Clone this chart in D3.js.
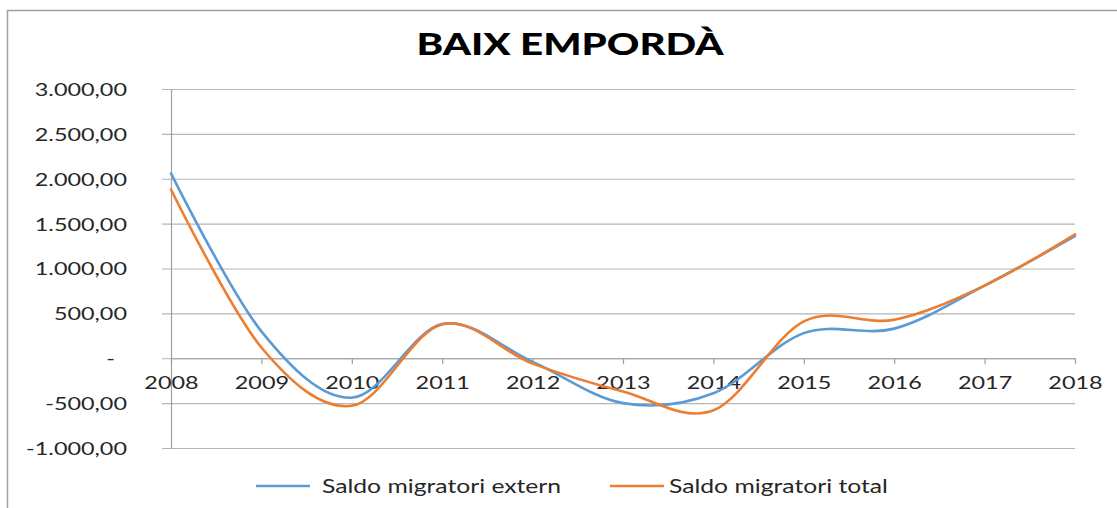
<!DOCTYPE html>
<html>
<head>
<meta charset="utf-8">
<script src="https://cdnjs.cloudflare.com/ajax/libs/d3/7.8.5/d3.min.js"></script>
<style>
  body { margin: 0; background: #fff; }
  text { font-family: Lato, "Open Sans", sans-serif; fill: #262626; }
</style>
</head>
<body>
<svg id="chart" width="1117" height="508"></svg>
<script>
// data
var years = ["2008","2009","2010","2011","2012","2013","2014","2015","2016","2017","2018"];
var saldoExtern = [2060, 300, -440, 380, -40, -500, -390, 280, 330, 810, 1360];
var saldoTotal  = [1880, 120, -530, 380, -60, -370, -580, 410, 430, 810, 1380];
var yTicks = [-1000, -500, 0, 500, 1000, 1500, 2000, 2500, 3000];
var seriesNames = ["Saldo migratori extern", "Saldo migratori total"];
var seriesColors = ["#5b9bd5", "#ed7d31"];

// the source picture is stretched sideways, so text gets a horizontal scale
var stretch = 1.3;

var svg = d3.select("#chart");
svg.append("rect").attr("width", 1117).attr("height", 508).attr("fill", "#fff");

// outer chart border (right and bottom fall outside the picture)
svg.append("path")
  .attr("d", "M7.5,508V10.5H1117")
  .attr("fill", "none")
  .attr("stroke", "#a0a0a0")
  .attr("stroke-width", 1.5);

var left = 171, right = 1075;
var x = d3.scalePoint().domain(years).range([left, right]);
var y = d3.scaleLinear().domain([-1000, 3000]).range([448, 89]);

var loc = d3.formatLocale({decimal: ",", thousands: ".", grouping: [3], currency: ["", ""], minus: "-"});
var fmt = loc.format(",.2f");

// gridlines
var grid = svg.append("g")
  .attr("transform", "translate(" + right + ",0)")
  .call(d3.axisRight(y).tickValues(yTicks).tickSize(-(right - 162)).tickFormat(""));
grid.select(".domain").remove();
grid.selectAll(".tick line").attr("stroke", "#b5b5b5").attr("stroke-width", 1.2);

// y axis with labels
var yAxis = svg.append("g")
  .attr("transform", "translate(" + left + ",0)")
  .call(d3.axisLeft(y).tickValues(yTicks).tickSize(0).tickPadding(44)
    .tickFormat(function(d) { return d === 0 ? "-" : fmt(d); }));
yAxis.select(".domain").attr("stroke", "#a0a0a0").attr("stroke-width", 1.2);
yAxis.selectAll(".tick text").attr("font-size", 18).attr("font-family", null)
  .attr("dy", "0.36em")
  .each(function(d) {
    var t = d3.select(this);
    t.attr("transform", "translate(" + (d === 0 ? -56 : -44) + ",0) scale(" + stretch + ",1)").attr("x", 0);
  });

// x axis crossing at zero
var xAxis = svg.append("g")
  .attr("transform", "translate(0," + y(0) + ")")
  .call(d3.axisBottom(x).tickSize(6).tickSizeOuter(0));
xAxis.select(".domain").attr("stroke", "#a0a0a0").attr("stroke-width", 1.2);
xAxis.selectAll(".tick line").attr("stroke", "#a0a0a0").attr("stroke-width", 1.2);
xAxis.selectAll(".tick text").attr("font-size", 18).attr("font-family", null)
  .attr("y", 31).attr("dy", 0)
  .attr("transform", "scale(" + stretch + ",1)");

// series
var line = d3.line()
  .x(function(d, i) { return x(years[i]); })
  .y(function(d) { return y(d); })
  .curve(d3.curveCardinal.tension(0));

[saldoExtern, saldoTotal].forEach(function(vals, i) {
  svg.append("path")
    .attr("d", line(vals))
    .attr("fill", "none")
    .attr("stroke", seriesColors[i])
    .attr("stroke-width", 2.6)
    .attr("stroke-linejoin", "round")
    .attr("stroke-linecap", "round");
});

// title
svg.append("text")
  .attr("transform", "translate(570,55) scale(" + stretch + ",1)")
  .attr("text-anchor", "middle")
  .attr("font-size", 31)
  .attr("font-weight", "900")
  .style("fill", "#000")
  .text("BAIX EMPORDÀ");

// legend
var legendPos = [256, 610];
seriesNames.forEach(function(name, i) {
  var g = svg.append("g").attr("transform", "translate(" + legendPos[i] + ",486)");
  g.append("line").attr("x1", 0).attr("x2", 54).attr("y1", 0).attr("y2", 0)
    .attr("stroke", seriesColors[i]).attr("stroke-width", 2.6);
  g.append("text")
    .attr("transform", "translate(" + (i === 0 ? 66 : 59) + ",6.5) scale(" + stretch + ",1)")
    .attr("font-size", 19)
    .text(name);
});
</script>
</body>
</html>
